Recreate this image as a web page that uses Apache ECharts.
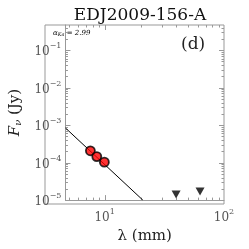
<!DOCTYPE html>
<html><head><meta charset="utf-8">
<script src="https://cdn.jsdelivr.net/npm/echarts@6/dist/echarts.min.js"></script>
<style>html,body{margin:0;padding:0;background:#fff}#c{width:249px;height:249px}</style>
</head><body><div id="c"></div>
<script>
// Data
const detX = [7.6, 8.6, 9.95];           // wavelength (mm)
const detY = [2.07e-4, 1.45e-4, 1.03e-4]; // flux (Jy)
const limX = [39.7, 63];
const limY = [1.4e-5, 1.7e-5];
const fitX = [4.7, 20.9];
const fitY = [8.4e-4, 1.0e-5];
const xMin = 4.7, xMax = 100, yMin = 1e-5, yMax = 0.47;
const xMajor = [10, 100];
const xMinor = [5, 6, 7, 8, 9, 20, 30, 40, 50, 60, 70, 80, 90];
const yMajor = [1e-5, 1e-4, 1e-3, 1e-2, 1e-1];
const yMinor = [];
[-5, -4, -3, -2, -1].forEach(n => { for (let m = 2; m <= 9; m++) { const v = m * Math.pow(10, n); if (v < yMax) yMinor.push(v); } });

const serif = '"DejaVu Serif", "Liberation Serif", serif';
const axisCol = '#999';
function powLabel(v) {
  const e = Math.round(Math.log10(v));
  if (Math.abs(Math.log10(v) - e) > 1e-6) return '';
  return '{b|10}{s|' + String(e).replace('-', '−') + '}';
}
const richLab = {
  b: {fontFamily: serif, fontSize: 12, color: '#555', verticalAlign: 'bottom', lineHeight: 16},
  s: {fontFamily: serif, fontSize: 8, color: '#555', verticalAlign: 'top', lineHeight: 16, padding: [0,0,6,0]}
};

const xTickData = xMajor.filter(v => v < xMax).map(v => [v, 1]).concat(xMinor.map(v => [v, 0]));
const yTickData = yMajor.map(v => [v, 1]).concat(yMinor.map(v => [v, 0]));

const chart = echarts.init(document.getElementById('c'), null, {renderer: 'canvas'});
chart.setOption({
  animation: false,
  backgroundColor: '#fff',
  title: {text: 'EDJ2009-156-A', left: 135, top: 2, textAlign: 'center',
    textStyle: {fontFamily: serif, fontSize: 17, fontWeight: 'normal', color: '#111'}},
  grid: {left: 45, right: 25, top: 25, bottom: 45},
  xAxis: {type: 'log', logBase: 10, min: xMin, max: xMax, splitNumber: 1,
    name: 'λ (mm)', nameLocation: 'middle', nameGap: 25,
    nameTextStyle: {fontFamily: serif, fontSize: 15, color: '#222'},
    axisLine: {lineStyle: {color: axisCol, width: 1}},
    axisTick: {show: false}, splitLine: {show: false},
    axisLabel: {formatter: powLabel, rich: richLab, margin: 8, showMinLabel: false}
  },
  yAxis: {type: 'log', logBase: 10, min: yMin, max: yMax, splitNumber: 5,
    name: '{i|F}{sub|ν} (Jy)', nameLocation: 'middle', nameGap: 31,
    nameTextStyle: {fontFamily: serif, fontSize: 15, color: '#222',
      rich: {i: {fontFamily: serif, fontSize: 15, fontStyle: 'italic', color: '#222'},
             sub: {fontFamily: serif, fontSize: 10, fontStyle: 'italic', color: '#222', verticalAlign: 'bottom', padding: [6,0,0,0]}}},
    axisLine: {lineStyle: {color: axisCol, width: 1}},
    axisTick: {show: false}, splitLine: {show: false},
    axisLabel: {formatter: powLabel, rich: richLab, margin: 4, showMaxLabel: false}
  },
  graphic: [
    {type: 'rect', shape: {x: 45, y: 25, width: 179, height: 179}, style: {fill: 'none', stroke: axisCol, lineWidth: 1}, silent: true},
    {type: 'text', left: 53, top: 30, style: {text: '{a|α}{k|Ka}{a| = 2.99}', rich: {
      a: {fontFamily: serif, fontSize: 7, fontStyle: 'italic', color: '#333'},
      k: {fontFamily: serif, fontSize: 5, fontStyle: 'italic', color: '#333', padding: [3,0,0,0]}}}},
    {type: 'text', left: 181, top: 36, style: {text: '(d)', fontFamily: serif, fontSize: 17, fill: '#222'}}
  ],
  series: [
    {type: 'line', data: fitX.map((x, i) => [x, fitY[i]]), symbol: 'none', clip: true,
      lineStyle: {color: '#000', width: 1}, z: 2},
    {type: 'scatter', data: detX.map((x, i) => [x, detY[i]]), symbol: 'circle', symbolSize: 9,
      itemStyle: {color: '#ff0000', borderColor: '#000', borderWidth: 1.8}, z: 3},
    {type: 'scatter', data: limX.map((x, i) => [x, limY[i]]), symbol: 'triangle', symbolRotate: 180, symbolSize: [9, 8],
      itemStyle: {color: '#000'}, z: 3},
    {type: 'custom', data: xTickData, silent: true, z: 1,
      renderItem: function (params, api) {
        const x = api.value(0), major = api.value(1) === 1;
        const b = api.coord([x, yMin]), t = api.coord([x, yMax]);
        const L = major ? 5 : 2.5;
        const st = {stroke: axisCol, lineWidth: 1};
        return {type: 'group', children: [
          {type: 'line', shape: {x1: Math.round(b[0]) + 0.5, y1: b[1], x2: Math.round(b[0]) + 0.5, y2: b[1] - L}, style: st},
          {type: 'line', shape: {x1: Math.round(t[0]) + 0.5, y1: t[1], x2: Math.round(t[0]) + 0.5, y2: t[1] + L}, style: st}
        ]};
      }},
    {type: 'custom', data: yTickData.map(d => [xMin, d[0], d[1]]), silent: true, z: 1,
      renderItem: function (params, api) {
        const y = api.value(1), major = api.value(2) === 1;
        const l = api.coord([xMin, y]), r = api.coord([xMax, y]);
        const L = major ? 5 : 2.5;
        const st = {stroke: axisCol, lineWidth: 1};
        return {type: 'group', children: [
          {type: 'line', shape: {x1: l[0], y1: Math.round(l[1]) + 0.5, x2: l[0] + L, y2: Math.round(l[1]) + 0.5}, style: st},
          {type: 'line', shape: {x1: r[0], y1: Math.round(r[1]) + 0.5, x2: r[0] - L, y2: Math.round(r[1]) + 0.5}, style: st}
        ]};
      }}
  ]
});
</script></body></html>
